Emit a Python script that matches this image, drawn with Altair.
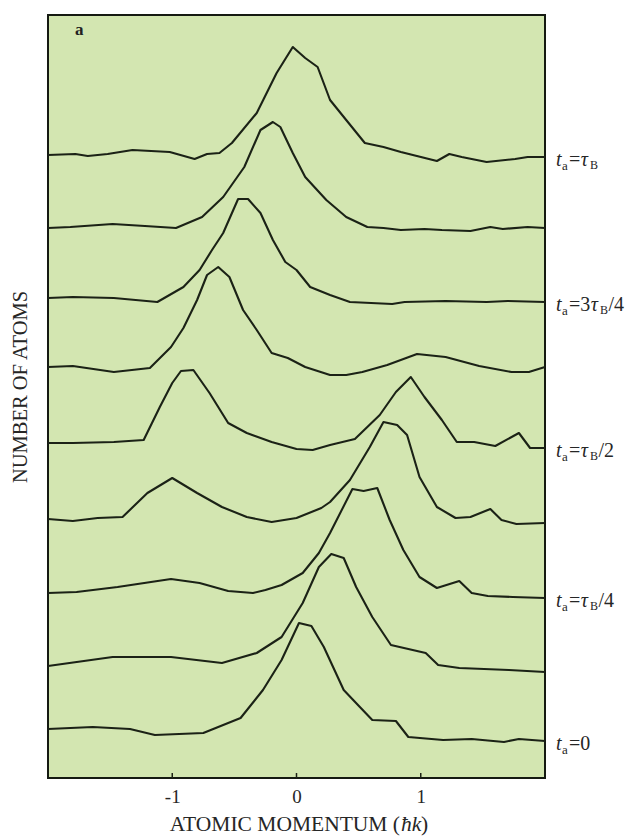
import altair as alt
import pandas as pd

# ---- data (momentum in hbar*k, stacked atom counts, arb. units) ----
curve_ids = ["tau_B", "c2", "3tau_B/4", "c4", "tau_B/2", "c6", "tau_B/4", "c8", "0"]

momentum_1 = [-2.0, -1.78, -1.68, -1.52, -1.32, -1.02, -0.82, -0.72, -0.62, -0.52, -0.32, -0.16, -0.03, 0.07, 0.17, 0.27, 0.40, 0.55, 0.70, 0.84, 1.13, 1.23, 1.33, 1.53, 1.76, 1.86, 2.0]
counts_1 = [623, 624, 622, 624, 628, 626, 619, 624, 625, 635, 665, 705, 731, 720, 711, 678, 658, 635, 631, 626, 617, 624, 621, 616, 619, 621, 621]

momentum_2 = [-2.0, -1.82, -1.48, -1.22, -0.97, -0.76, -0.59, -0.42, -0.29, -0.19, -0.13, -0.03, 0.07, 0.24, 0.40, 0.57, 0.70, 0.84, 1.03, 1.17, 1.40, 1.56, 1.66, 1.86, 2.0]
counts_2 = [550, 551, 554, 552, 550, 561, 581, 611, 648, 656, 651, 625, 601, 578, 561, 551, 550, 548, 549, 548, 547, 551, 549, 551, 550]

momentum_3 = [-2.0, -1.8, -1.47, -1.12, -0.91, -0.78, -0.68, -0.59, -0.47, -0.39, -0.29, -0.19, -0.09, 0.0, 0.11, 0.27, 0.43, 0.6, 0.77, 0.87, 1.2, 1.53, 1.7, 2.0]
counts_3 = [480, 481, 480, 476, 491, 508, 528, 545, 579, 579, 565, 538, 516, 508, 491, 483, 476, 475, 474, 476, 477, 476, 477, 476]

momentum_4 = [-2.0, -1.8, -1.47, -1.18, -1.01, -0.91, -0.8, -0.72, -0.63, -0.54, -0.43, -0.32, -0.2, -0.07, 0.07, 0.27, 0.4, 0.53, 0.73, 0.97, 1.2, 1.47, 1.73, 1.87, 2.0]
counts_4 = [411, 412, 406, 410, 431, 450, 478, 503, 511, 501, 468, 448, 425, 420, 411, 403, 403, 406, 413, 424, 421, 412, 406, 406, 411]

momentum_5 = [-2.0, -1.8, -1.47, -1.23, -1.1, -1.0, -0.93, -0.83, -0.7, -0.55, -0.4, -0.2, 0.0, 0.13, 0.27, 0.47, 0.67, 0.8, 0.92, 1.03, 1.17, 1.29, 1.43, 1.6, 1.79, 1.88, 2.0]
counts_5 = [335, 335, 336, 338, 371, 395, 407, 408, 385, 355, 345, 336, 329, 328, 333, 339, 363, 386, 401, 381, 358, 336, 336, 332, 345, 330, 330]

momentum_6 = [-2.0, -1.8, -1.6, -1.4, -1.2, -1.0, -0.8, -0.6, -0.4, -0.2, 0.0, 0.2, 0.27, 0.43, 0.59, 0.7, 0.81, 0.89, 0.99, 1.13, 1.28, 1.4, 1.56, 1.65, 1.77, 2.0]
counts_6 = [259, 257, 260, 261, 285, 300, 285, 271, 261, 256, 260, 270, 276, 298, 331, 356, 353, 343, 301, 271, 260, 261, 269, 258, 254, 255]

momentum_7 = [-2.0, -1.77, -1.44, -1.01, -0.78, -0.55, -0.35, -0.25, -0.12, 0.05, 0.18, 0.27, 0.45, 0.54, 0.65, 0.75, 0.86, 0.99, 1.13, 1.31, 1.41, 1.54, 1.74, 2.0]
counts_7 = [185, 186, 191, 199, 195, 187, 185, 188, 193, 205, 225, 245, 289, 287, 290, 258, 228, 201, 190, 197, 185, 182, 181, 180]

momentum_8 = [-2.0, -1.48, -1.01, -0.6, -0.32, -0.12, 0.05, 0.18, 0.28, 0.38, 0.48, 0.61, 0.76, 1.04, 1.14, 1.31, 1.71, 2.0]
counts_8 = [112, 121, 121, 115, 125, 141, 175, 211, 224, 220, 191, 161, 133, 125, 113, 110, 108, 106]

momentum_9 = [-2.0, -1.64, -1.34, -1.14, -0.75, -0.45, -0.27, -0.12, 0.02, 0.12, 0.22, 0.38, 0.51, 0.61, 0.8, 0.9, 1.18, 1.41, 1.67, 1.79, 2.0]
counts_9 = [49, 51, 49, 43, 45, 60, 88, 118, 155, 152, 131, 88, 71, 58, 57, 41, 38, 39, 36, 39, 37]

x_ticks = [-1, 0, 1]

# labels on the right: curve index, upright text, tau present, tail
label_curves = [0, 2, 4, 6, 8]
label_pre = ["=", "=3", "=", "=", "=0"]
label_tau = [True, True, True, True, False]
label_tail = ["", "/4", "/2", "/4", ""]

momenta = [momentum_1, momentum_2, momentum_3, momentum_4, momentum_5,
           momentum_6, momentum_7, momentum_8, momentum_9]
counts = [counts_1, counts_2, counts_3, counts_4, counts_5,
          counts_6, counts_7, counts_8, counts_9]

rows = []
for i, (xs, ys) in enumerate(zip(momenta, counts)):
    for x, y in zip(xs, ys):
        rows.append({"curve": curve_ids[i], "p": x, "n": y})
df = pd.DataFrame(rows)

W, H = 497, 763
FONT = "Liberation Serif"
INK = "#1b2216"
TXT = "#262626"

xscale = alt.Scale(domain=[-2.0, 2.0], nice=False, zero=False)
yscale = alt.Scale(domain=[0, H], nice=False, zero=False)

lines = alt.Chart(df).mark_line(color=INK, strokeWidth=2.1, strokeJoin="round").encode(
    x=alt.X("p:Q", scale=xscale,
            axis=alt.Axis(values=x_ticks, ticks=False, domain=False, grid=False,
                          labelFont=FONT, labelFontSize=19, labelColor=TXT,
                          labelPadding=9, title=None, format="d",
                          labelExpr="datum.value < 0 ? '-' + abs(datum.value) : '' + datum.value")),
    y=alt.Y("n:Q", scale=yscale, axis=None),
    detail="curve:N",
)

ticks = alt.Chart(pd.DataFrame({"t": x_ticks})).mark_rule(color=INK, strokeWidth=1.5).encode(
    x=alt.X("t:Q", scale=xscale),
    y=alt.value(H - 5),
    y2=alt.value(H),
)

one = pd.DataFrame({"k": [0]})

def fixed_text(txt, x, y, size, align="left", style="normal", weight="normal", angle=0, color=TXT):
    kw = dict(text=txt, font=FONT, fontSize=size, align=align, baseline="middle",
              fontStyle=style, fontWeight=weight, color=color)
    if angle:
        kw["angle"] = angle
    return alt.Chart(one).mark_text(**kw).encode(x=alt.value(x), y=alt.value(y))

layers = [lines, ticks]

# x-axis title with italic hbar k
title_y = 810
layers.append(fixed_text("ATOMIC MOMENTUM (", 352, title_y, 21.5, align="right"))
layers.append(fixed_text("\u0127k", 353, title_y, 21.5, style="italic"))
layers.append(fixed_text(")", 373, title_y, 21.5))
# y-axis title
layers.append(fixed_text("NUMBER OF ATOMS", -27, 372, 20.5, align="center", angle=270))
# panel letter
layers.append(fixed_text("a", 27, 15, 17, weight="bold", color="#222"))

# right-hand labels
S, s = 20, 13
w = {"=": 0.564, "3": 0.5, "0": 0.5}
for ci, pre, tau, tail in zip(label_curves, label_pre, label_tau, label_tail):
    d = pd.DataFrame({"n": [counts[ci][-1]]})
    y = alt.Y("n:Q", scale=yscale)
    x0 = 508
    base = dict(font=FONT, baseline="middle", align="left", color=TXT)
    layers.append(alt.Chart(d).mark_text(text="t", fontSize=S, fontStyle="italic", dy=3, **base)
                  .encode(x=alt.value(x0), y=y))
    layers.append(alt.Chart(d).mark_text(text="a", fontSize=s, dy=9, **base)
                  .encode(x=alt.value(x0 + 6), y=y))
    xm = x0 + 13
    layers.append(alt.Chart(d).mark_text(text=pre, fontSize=S, dy=3, **base)
                  .encode(x=alt.value(xm), y=y))
    if tau:
        xtau = xm + sum(w[c] for c in pre) * S + 0.5
        layers.append(alt.Chart(d).mark_text(text="\u03c4", fontSize=S, fontStyle="italic", dy=3, **base)
                      .encode(x=alt.value(xtau), y=y))
        xb = xtau + 0.46 * S
        layers.append(alt.Chart(d).mark_text(text="B", fontSize=s - 1, dy=8, **base)
                      .encode(x=alt.value(xb), y=y))
        xt = xb + 0.667 * (s - 1) + 0.5
        if tail:
            layers.append(alt.Chart(d).mark_text(text=tail, fontSize=S, dy=3, **base)
                          .encode(x=alt.value(xt), y=y))

chart = alt.layer(*layers).properties(
    width=W, height=H,
    padding={"left": 40, "top": 7, "right": 84, "bottom": 58},
    autosize=alt.AutoSizeParams(type="none"),
).configure_view(fill="#d3e6b1", stroke="#151a12", strokeWidth=2)

chart.save("out.html", embed_options={"renderer": "svg", "actions": False})
